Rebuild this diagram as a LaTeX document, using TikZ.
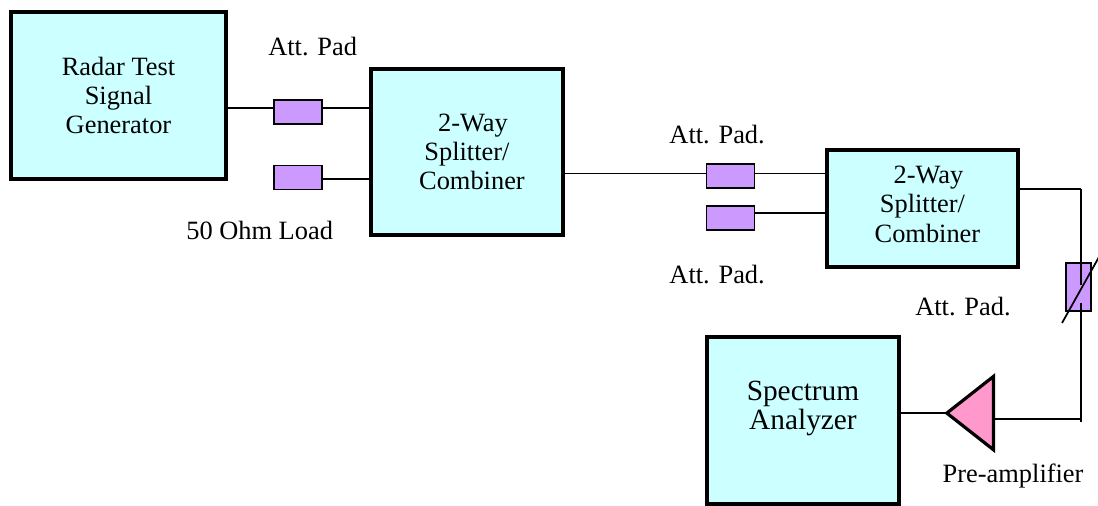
\documentclass[tikz,border=0pt]{standalone}
\usepackage{fontspec}
\setmainfont{Liberation Serif}
\usepackage{tikz}
\usetikzlibrary{positioning, shapes.geometric}

\definecolor{boxcyan}{HTML}{CCFFFF}
\definecolor{padpurple}{HTML}{CC99FF}
\definecolor{amppink}{HTML}{FF99CC}

\tikzset{
  unitbox/.style={draw, line width=2.4pt, fill=boxcyan, align=center, inner sep=0pt, font=\fontsize{19.8}{22}\selectfont},
  padbox/.style={draw, line width=1.4pt, fill=padpurple, inner sep=0pt, minimum width=36pt, minimum height=18pt},
  caption/.style={inner sep=0pt, font=\fontsize{19.8}{22}\selectfont},
  wire/.style={line width=1.3pt}
}

\begin{document}
\begin{tikzpicture}[x=0.75pt, y=-0.75pt, node distance=50pt]
\useasboundingbox (0,0) rectangle (1098,506);

\node (radar) [unitbox, minimum width=161.25pt, minimum height=125.25pt] at (118.5,95.5) {Radar Test\\Signal\\Generator};
\node (padA) [padbox, right of=radar, xshift=84.6pt, yshift=-12.4pt] {};
\node (loadA) [padbox, below of=padA, yshift=0.9pt] {};
\node (splitA) [unitbox, minimum width=144pt, minimum height=124.5pt, right of=padA, xshift=76.75pt, yshift=-30pt] {\hspace*{9pt}2-Way\\Splitter/\\\hspace*{7.5pt}Combiner};
\node (padB) [padbox, right of=splitA, xshift=147.6pt, yshift=-17.8pt] {};
\node (padC) [padbox, below of=padB, yshift=18.3pt] {};
\node (splitB) [unitbox, minimum width=143.25pt, minimum height=87.75pt, text depth=6.75pt, right of=padB, xshift=94pt, yshift=-24.6pt] {\hspace*{9pt}2-Way\\Splitter/\\\hspace*{7.5pt}Combiner};
\node (padD) [padbox, minimum width=18.5pt, minimum height=36pt, right of=splitB, xshift=67.2pt, yshift=-58.7pt] {};
\node (specA) [unitbox, minimum width=144pt, minimum height=125.25pt, text depth=23pt, below of=splitB, xshift=-89.6pt, yshift=-109pt, font=\fontsize{22}{21.4}\selectfont] {Spectrum\\Analyzer};
\node (ampA) [draw, line width=2.4pt, fill=amppink, isosceles triangle, isosceles triangle stretches, shape border rotate=180, inner sep=0pt, outer sep=0pt, minimum width=55pt, minimum height=35pt, right of=specA, xshift=79.5pt, yshift=5.6pt] {};

\node (lblA) [caption, above of=padA, xshift=11pt, yshift=-0.5pt] {Att. Pad};
\node (lblB) [caption, below of=loadA, xshift=-28.75pt, yshift=10pt] {50 Ohm Load};
\node (lblC) [caption, above of=padB, xshift=-10pt, yshift=-18.7pt] {Att. Pad.};
\node (lblD) [caption, below of=padC, xshift=-10pt, yshift=8pt] {Att. Pad.};
\node (lblE) [caption, left of=padD, xshift=-36.8pt, yshift=-15pt] {Att. Pad.};
\node (lblF) [caption, below of=ampA, xshift=28.1pt, yshift=3pt] {Pre-amplifier};

\coordinate (turnA) at (1081,189);
\coordinate (stubA) at (1081,285);
\coordinate (stubB) at (1081,303);
\coordinate (turnB) at (1081,422);
\coordinate (turnC) at (1081,419);
\coordinate (varA) at (1062,323);
\coordinate (varB) at (1104,248);

\draw[wire] ([yshift=3pt]padA.west -| radar.east) -- ([yshift=3pt]padA.west);
\draw[wire] ([yshift=3pt]padA.east) -- ([yshift=3pt]padA.east -| splitA.west);
\draw[wire] ([yshift=-1pt]loadA.east) -- ([yshift=-1pt]loadA.east -| splitA.west);
\draw[wire] ([yshift=1.8pt]padB.west -| splitA.east) -- ([yshift=1.8pt]padB.west);
\draw[wire] ([yshift=1.8pt]padB.east) -- ([yshift=1.8pt]padB.east -| splitB.west);
\draw[wire] ([yshift=4pt]padC.east) -- ([yshift=4pt]padC.east -| splitB.west);
\draw[wire] (turnA -| splitB.east) -- (turnA);
\draw[wire] (turnA) -- (stubA);
\draw[wire] (stubB) -- (turnB);
\draw[wire] (turnC) -- (ampA.lower side |- turnC);
\draw[wire] (ampA.apex -| specA.east) -- (ampA.apex);
\draw[wire, ->] (varA) -- (varB);
\end{tikzpicture}
\end{document}
